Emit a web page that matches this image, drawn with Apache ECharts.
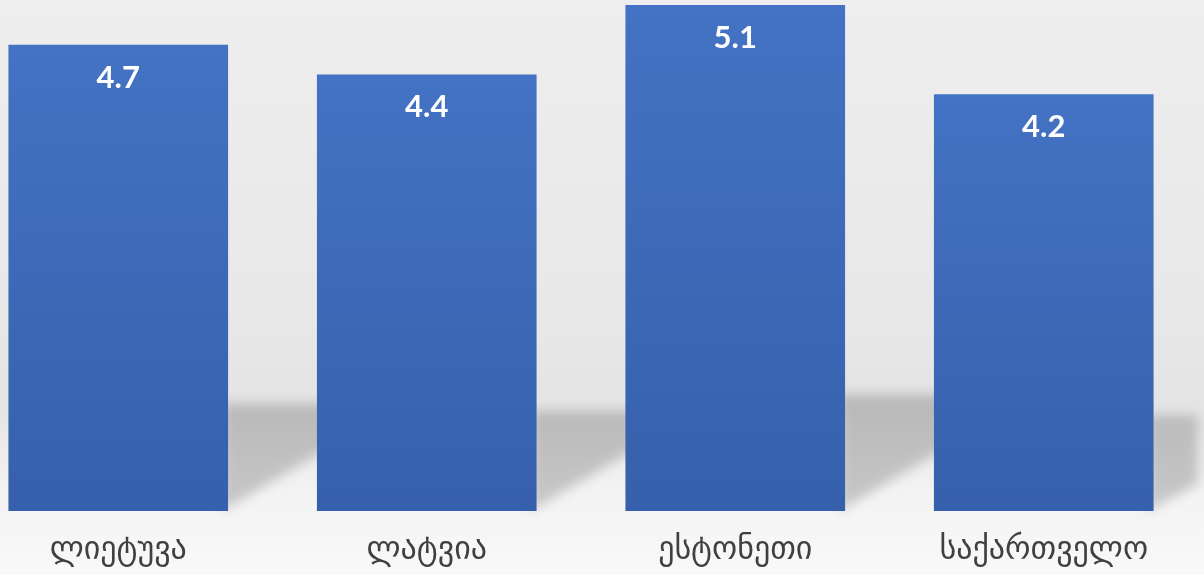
<!DOCTYPE html>
<html>
<head>
<meta charset="utf-8">
<script src="https://cdn.jsdelivr.net/npm/echarts@6/dist/echarts.min.js"></script>
<style>
html,body{margin:0;padding:0;background:#eeeeee;overflow:hidden;width:1204px;height:575px;}
#wrap{position:relative;width:1204px;height:575px;overflow:hidden;}
#chart{position:absolute;left:-36px;top:0;width:1240px;height:575px;}
</style>
</head>
<body>
<div id="wrap"><div id="chart"></div></div>
<script>
const categories = ['ლიეტუვა', 'ლატვია', 'ესტონეთი', 'საქართველო'];
const values = [4.7, 4.4, 5.1, 4.2];
const yMin = 0;
const yMax = 5.1;

const chart = echarts.init(document.getElementById('chart'), null, {renderer: 'canvas'});
const BAR_RATIO = 0.712;
const OFF = 3000;

const option = {
  animation: false,
  backgroundColor: {
    type: 'linear', x: 0, y: 0, x2: 0, y2: 1,
    colorStops: [
      {offset: 0, color: '#eeeeee'},
      {offset: 0.55, color: '#e8e8e8'},
      {offset: 0.70, color: '#e4e4e4'},
      {offset: 0.86, color: '#f3f3f3'},
      {offset: 1, color: '#f9f9f9'}
    ]
  },
  grid: {left: 0, right: 6, top: 5, bottom: 64, containLabel: false},
  xAxis: {
    type: 'category',
    data: categories,
    axisLine: {show: false},
    axisTick: {show: false},
    axisLabel: {
      color: '#404040',
      fontSize: 32,
      fontFamily: 'DejaVu Sans',
      margin: 24
    }
  },
  yAxis: {
    type: 'value',
    min: yMin,
    max: yMax,
    show: false,
    splitLine: {show: false}
  },
  series: [
    {
      type: 'custom',
      z: 1,
      clip: false,
      silent: true,
      data: values.map((v, i) => [i, v]),
      renderItem: function (params, api) {
        const base = api.coord([api.value(0), 0]);
        const top = api.coord([api.value(0), api.value(1)]);
        const bw = api.size([1, 0])[0] * BAR_RATIO;
        const xr = base[0] + bw / 2;
        const yb = base[1];
        const h = yb - top[1];
        const yt = yb - 0.23 * h;
        const cs = params.coordSys;
        const xe = Math.min(xr + 130, cs.x + cs.width);
        const slope = 0.62;
        return {
          type: 'polygon',
          shape: {
            points: [
              [xr + OFF - 6, yt],
              [xe + OFF, yt],
              [xe + OFF, yb - slope * (xe - xr)],
              [xr + OFF - 6, yb]
            ]
          },
          style: {
            fill: '#000',
            shadowBlur: 12,
            shadowColor: 'rgba(0,0,0,0.19)',
            shadowOffsetX: -OFF,
            shadowOffsetY: 0
          }
        };
      }
    },
    {
      type: 'bar',
      z: 2,
      data: values,
      barWidth: (BAR_RATIO * 100) + '%',
      itemStyle: {
        color: {
          type: 'linear', x: 0, y: 0, x2: 0, y2: 1,
          colorStops: [
            {offset: 0, color: '#4472c4'},
            {offset: 1, color: '#3660ab'}
          ]
        }
      },
      label: {
        show: true,
        position: 'insideTop',
        distance: 18,
        color: '#ffffff',
        fontFamily: 'Lato',
        fontWeight: 'bold',
        fontSize: 31,
        lineHeight: 30,
        formatter: p => p.value.toFixed(1)
      }
    }
  ]
};
chart.setOption(option);
</script>
</body>
</html>
